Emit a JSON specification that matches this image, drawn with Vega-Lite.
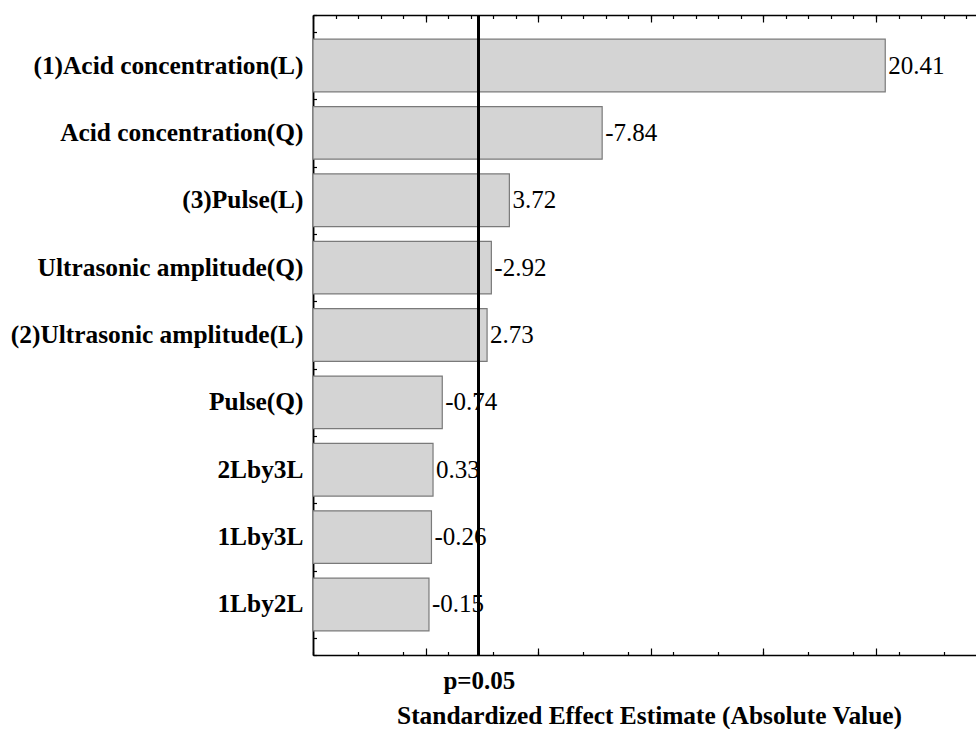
{
  "$schema": "https://vega.github.io/schema/vega-lite/v6.json",
  "width": 663,
  "height": 640,
  "autosize": {"type": "none"},
  "padding": {"left": 313, "top": 15, "right": 0, "bottom": 74},
  "background": "white",
  "config": {
    "view": {"stroke": null},
    "font": "Liberation Serif",
    "axis": {
      "grid": false,
      "domainColor": "black",
      "domainWidth": 1.5,
      "tickColor": "black",
      "tickWidth": 1.2,
      "labelColor": "black",
      "titleColor": "black",
      "labelFont": "Liberation Serif",
      "titleFont": "Liberation Serif"
    }
  },
  "data": {
    "values": [
      {"term": "(1)Acid concentration(L)", "effect": 20.41, "abs_effect": 20.41},
      {"term": "Acid concentration(Q)", "effect": -7.84, "abs_effect": 7.84},
      {"term": "(3)Pulse(L)", "effect": 3.72, "abs_effect": 3.72},
      {"term": "Ultrasonic amplitude(Q)", "effect": -2.92, "abs_effect": 2.92},
      {"term": "(2)Ultrasonic amplitude(L)", "effect": 2.73, "abs_effect": 2.73},
      {"term": "Pulse(Q)", "effect": -0.74, "abs_effect": 0.74},
      {"term": "2Lby3L", "effect": 0.33, "abs_effect": 0.33},
      {"term": "1Lby3L", "effect": -0.26, "abs_effect": 0.26},
      {"term": "1Lby2L", "effect": -0.15, "abs_effect": 0.15}
    ]
  },
  "layer": [
    {
      "encoding": {
        "y": {
          "field": "term",
          "type": "nominal",
          "sort": {"field": "abs_effect", "order": "descending"},
          "scale": {"paddingInner": 0.219, "paddingOuter": 0.3595},
          "axis": {
            "orient": "left",
            "title": null,
            "tickSize": -7,
            "labelPadding": 17,
            "labelFontSize": 25.4,
            "labelFontWeight": "bold",
            "labelLimit": 400
          }
        }
      },
      "layer": [
        {
          "mark": {"type": "bar", "fill": "#d4d4d4", "stroke": "#7a7a7a", "strokeWidth": 1.2},
          "encoding": {
            "x": {
              "field": "abs_effect",
              "type": "quantitative",
              "scale": {"domain": [-5, 24.44], "nice": false, "zero": false},
              "axis": {
                "orient": "bottom",
                "values": [-5, -4, -3, -2, -1, 0, 1, 2, 3, 4, 5, 6, 7, 8, 9, 10, 11, 12, 13, 14, 15, 16, 17, 18, 19, 20, 21, 22, 23, 24],
                "labels": false,
                "tickSize": -3.5,
                "title": "Standardized Effect Estimate (Absolute Value)",
                "titleFontSize": 25.4,
                "titleFontWeight": "bold",
                "titlePadding": 48,
                "titleX": 336
              }
            },
            "x2": {"datum": -5}
          }
        },
        {
          "mark": {"type": "text", "align": "left", "baseline": "middle", "dx": 3, "fontSize": 25, "font": "Liberation Serif", "color": "black"},
          "encoding": {
            "x": {"field": "abs_effect", "type": "quantitative"},
            "text": {"field": "effect", "type": "nominal"}
          }
        }
      ]
    },
    {
      "mark": {"type": "rule", "color": "black", "strokeWidth": 2},
      "encoding": {
        "x": {
          "datum": 2.365,
          "type": "quantitative",
          "scale": {"domain": [-5, 24.44], "nice": false, "zero": false},
          "axis": {
            "orient": "top",
            "values": [-5, -4, -3, -2, -1, 0, 1, 2, 3, 4, 5, 6, 7, 8, 9, 10, 11, 12, 13, 14, 15, 16, 17, 18, 19, 20, 21, 22, 23, 24],
            "labels": false,
            "tickSize": -3.5,
            "title": null
          }
        },
        "y": {
          "datum": 0,
          "type": "quantitative",
          "scale": {"domain": [0, 38], "nice": false, "zero": false},
          "axis": {
            "orient": "left",
            "values": [0, 1, 2, 3, 4, 5, 6, 7, 8, 9, 10, 11, 12, 13, 14, 15, 16, 17, 18, 19, 20, 21, 22, 23, 24, 25, 26, 27, 28, 29, 30, 31, 32, 33, 34, 35, 36, 37, 38],
            "labels": false,
            "tickSize": -3.5,
            "title": null
          }
        },
        "y2": {"datum": 38}
      }
    },
    {
      "mark": {"type": "rule", "color": "black", "strokeWidth": 2},
      "encoding": {
        "x": {
          "datum": 2.365,
          "type": "quantitative",
          "scale": {"domain": [-5, 24.44], "nice": false, "zero": false},
          "axis": {
            "orient": "bottom",
            "values": [0, 5, 10, 15, 20],
            "labels": false,
            "domain": false,
            "tickSize": -7,
            "title": null
          }
        }
      }
    },
    {
      "mark": {"type": "rule", "color": "black", "strokeWidth": 2},
      "encoding": {
        "x": {
          "datum": 2.365,
          "type": "quantitative",
          "scale": {"domain": [-5, 24.44], "nice": false, "zero": false},
          "axis": {
            "orient": "top",
            "values": [0, 5, 10, 15, 20],
            "labels": false,
            "domain": false,
            "tickSize": -7,
            "title": null
          }
        }
      }
    },
    {
      "mark": {"type": "rule", "color": "black", "strokeWidth": 2},
      "encoding": {
        "x": {
          "datum": 2.365,
          "type": "quantitative",
          "scale": {"domain": [-5, 24.44], "nice": false, "zero": false},
          "axis": {
            "orient": "bottom",
            "values": [2.365],
            "ticks": false,
            "domain": false,
            "labelExpr": "'p=0.05'",
            "labelFontSize": 25,
            "labelFontWeight": "bold",
            "labelPadding": 13,
            "title": null
          }
        }
      }
    }
  ],
  "resolve": {"scale": {"x": "independent", "y": "independent"}}
}
